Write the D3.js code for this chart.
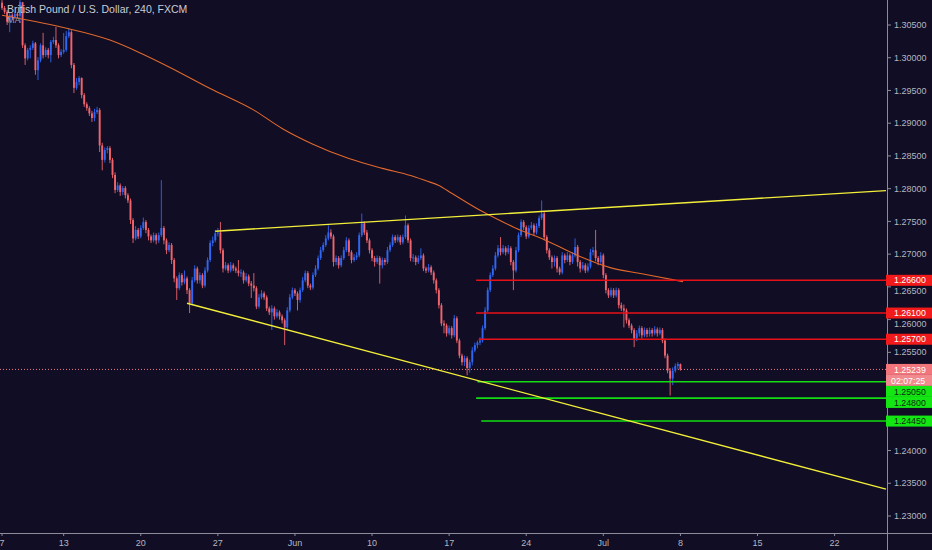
<!DOCTYPE html>
<html><head><meta charset="utf-8">
<script src="https://cdn.jsdelivr.net/npm/d3@7"></script>
<style>body{margin:0;background:#100d24;overflow:hidden}svg{display:block}</style>
</head><body><svg id="c" width="932" height="550"></svg>
<script>
// ---- DATA (GBP/USD 4H, FXCM) ----
const title = "British Pound / U.S. Dollar, 240, FXCM";
const indicatorName = "MA";
const firstOpen = 1.3084;
const closes = [
1.3076,1.3070,1.3055,1.3065,1.3062,1.3067,1.3064,1.3085,1.3019,1.2999,
1.3012,1.3015,1.3022,1.2981,1.2996,1.3019,1.3004,1.3012,1.3004,1.3024,
1.3027,1.3019,1.3004,1.3009,1.3012,1.3033,1.3039,1.2989,1.2954,1.2963,
1.2969,1.2943,1.2929,1.2923,1.2915,1.2908,1.2917,1.2920,1.2866,1.2844,
1.2859,1.2862,1.2844,1.2821,1.2798,1.2805,1.2795,1.2801,1.2790,1.2782,
1.2752,1.2724,1.2737,1.2727,1.2740,1.2749,1.2737,1.2727,1.2721,1.2729,
1.2721,1.2729,1.2740,1.2721,1.2706,1.2714,1.2691,1.2663,1.2648,1.2668,
1.2657,1.2663,1.2645,1.2625,1.2660,1.2678,1.2660,1.2668,1.2652,1.2675,
1.2691,1.2717,1.2721,1.2732,1.2733,1.2706,1.2678,1.2683,1.2675,1.2683,
1.2678,1.2675,1.2671,1.2672,1.2660,1.2666,1.2655,1.2652,1.2648,1.2620,
1.2634,1.2640,1.2634,1.2617,1.2611,1.2617,1.2605,1.2611,1.2605,1.2599,
1.2588,1.2614,1.2634,1.2645,1.2640,1.2630,1.2645,1.2660,1.2671,1.2652,
1.2649,1.2668,1.2678,1.2694,1.2706,1.2714,1.2724,1.2733,1.2727,1.2688,
1.2694,1.2683,1.2694,1.2706,1.2721,1.2703,1.2691,1.2695,1.2698,1.2729,
1.2747,1.2733,1.2721,1.2706,1.2694,1.2688,1.2694,1.2683,1.2691,1.2688,
1.2706,1.2714,1.2726,1.2721,1.2726,1.2718,1.2726,1.2744,1.2721,1.2694,
1.2695,1.2688,1.2694,1.2698,1.2678,1.2675,1.2680,1.2672,1.2660,1.2645,
1.2622,1.2594,1.2591,1.2579,1.2587,1.2576,1.2602,1.2568,1.2545,1.2535,
1.2541,1.2526,1.2535,1.2553,1.2561,1.2565,1.2568,1.2587,1.2614,1.2645,
1.2668,1.2678,1.2698,1.2709,1.2703,1.2709,1.2703,1.2709,1.2688,1.2675,
1.2706,1.2729,1.2749,1.2741,1.2727,1.2740,1.2744,1.2733,1.2743,1.2755,
1.2762,1.2726,1.2706,1.2695,1.2688,1.2694,1.2678,1.2672,1.2698,1.2691,
1.2698,1.2688,1.2698,1.2711,1.2688,1.2678,1.2683,1.2675,1.2681,1.2703,
1.2706,1.2694,1.2688,1.2698,1.2668,1.2645,1.2637,1.2645,1.2637,1.2645,
1.2622,1.2617,1.2614,1.2599,1.2591,1.2584,1.2571,1.2579,1.2587,1.2576,
1.2584,1.2578,1.2584,1.2579,1.2585,1.2579,1.2584,1.2568,1.2545,1.2522,
1.2510,1.2522,1.2529,1.2532,1.2524];
const highs = [
1.3088,1.3079,1.3073,1.3068,1.3068,1.3070,1.3070,1.3088,1.3081,1.3022,
1.3015,1.3019,1.3026,1.3024,1.3001,1.3022,1.3038,1.3016,1.3015,1.3027,
1.3032,1.3047,1.3022,1.3013,1.3038,1.3041,1.3045,1.3042,1.2992,1.2969,
1.2972,1.2970,1.2946,1.2932,1.2926,1.2919,1.2922,1.2925,1.2923,1.2870,
1.2863,1.2865,1.2865,1.2847,1.2825,1.2810,1.2808,1.2804,1.2804,1.2793,
1.2785,1.2755,1.2743,1.2740,1.2744,1.2756,1.2752,1.2740,1.2730,1.2733,
1.2732,1.2733,1.2813,1.2743,1.2724,1.2718,1.2717,1.2694,1.2666,1.2672,
1.2671,1.2675,1.2666,1.2648,1.2665,1.2683,1.2681,1.2672,1.2671,1.2680,
1.2695,1.2721,1.2727,1.2737,1.2740,1.2749,1.2709,1.2688,1.2686,1.2688,
1.2686,1.2681,1.2691,1.2677,1.2675,1.2671,1.2669,1.2659,1.2671,1.2651,
1.2639,1.2645,1.2643,1.2637,1.2620,1.2622,1.2620,1.2616,1.2614,1.2608,
1.2602,1.2619,1.2639,1.2649,1.2648,1.2643,1.2649,1.2665,1.2675,1.2674,
1.2655,1.2672,1.2683,1.2698,1.2711,1.2718,1.2729,1.2744,1.2738,1.2730,
1.2698,1.2697,1.2698,1.2711,1.2726,1.2724,1.2706,1.2700,1.2703,1.2733,
1.2762,1.2750,1.2737,1.2724,1.2709,1.2697,1.2698,1.2697,1.2695,1.2694,
1.2711,1.2718,1.2730,1.2729,1.2730,1.2729,1.2730,1.2759,1.2747,1.2724,
1.2700,1.2698,1.2698,1.2709,1.2701,1.2681,1.2685,1.2683,1.2675,1.2663,
1.2648,1.2625,1.2599,1.2594,1.2591,1.2590,1.2607,1.2605,1.2571,1.2548,
1.2545,1.2544,1.2539,1.2558,1.2565,1.2568,1.2573,1.2591,1.2619,1.2649,
1.2672,1.2683,1.2703,1.2714,1.2726,1.2714,1.2712,1.2714,1.2712,1.2691,
1.2711,1.2733,1.2753,1.2752,1.2744,1.2744,1.2749,1.2747,1.2747,1.2759,
1.2782,1.2766,1.2729,1.2709,1.2698,1.2698,1.2697,1.2681,1.2703,1.2701,
1.2703,1.2701,1.2703,1.2724,1.2714,1.2691,1.2688,1.2686,1.2686,1.2708,
1.2711,1.2737,1.2697,1.2703,1.2701,1.2671,1.2648,1.2649,1.2648,1.2649,
1.2648,1.2626,1.2623,1.2617,1.2602,1.2594,1.2587,1.2584,1.2591,1.2590,
1.2588,1.2587,1.2588,1.2587,1.2590,1.2588,1.2588,1.2587,1.2571,1.2548,
1.2526,1.2527,1.2533,1.2535,1.2533];
const lows = [
1.3073,1.3067,1.3050,1.3039,1.3058,1.3059,1.3061,1.3053,1.3015,1.2989,
1.2996,1.2999,1.3012,1.2974,1.2966,1.2993,1.2999,1.3001,1.2999,1.2993,
1.3021,1.3015,1.2999,1.3001,1.3006,1.3009,1.3030,1.2984,1.2946,1.2951,
1.2958,1.2938,1.2925,1.2919,1.2911,1.2902,1.2903,1.2914,1.2856,1.2828,
1.2840,1.2854,1.2839,1.2816,1.2793,1.2795,1.2789,1.2790,1.2785,1.2778,
1.2746,1.2717,1.2721,1.2723,1.2724,1.2737,1.2732,1.2721,1.2717,1.2718,
1.2715,1.2717,1.2726,1.2715,1.2700,1.2703,1.2685,1.2657,1.2630,1.2645,
1.2652,1.2654,1.2639,1.2610,1.2622,1.2657,1.2655,1.2655,1.2648,1.2649,
1.2672,1.2688,1.2712,1.2718,1.2727,1.2701,1.2672,1.2675,1.2671,1.2672,
1.2674,1.2671,1.2666,1.2665,1.2655,1.2657,1.2651,1.2633,1.2643,1.2616,
1.2617,1.2631,1.2630,1.2613,1.2607,1.2584,1.2600,1.2602,1.2600,1.2594,
1.2561,1.2584,1.2611,1.2631,1.2636,1.2614,1.2626,1.2642,1.2657,1.2648,
1.2645,1.2646,1.2665,1.2675,1.2691,1.2703,1.2711,1.2721,1.2723,1.2681,
1.2683,1.2678,1.2680,1.2691,1.2703,1.2697,1.2686,1.2688,1.2691,1.2695,
1.2726,1.2729,1.2717,1.2701,1.2689,1.2681,1.2685,1.2655,1.2678,1.2683,
1.2685,1.2703,1.2711,1.2717,1.2718,1.2714,1.2715,1.2723,1.2717,1.2689,
1.2688,1.2683,1.2685,1.2691,1.2674,1.2671,1.2672,1.2668,1.2655,1.2640,
1.2617,1.2590,1.2579,1.2574,1.2576,1.2571,1.2573,1.2564,1.2541,1.2530,
1.2529,1.2515,1.2519,1.2530,1.2550,1.2556,1.2561,1.2565,1.2584,1.2611,
1.2642,1.2665,1.2675,1.2695,1.2698,1.2700,1.2698,1.2700,1.2683,1.2645,
1.2672,1.2703,1.2726,1.2737,1.2723,1.2724,1.2737,1.2729,1.2730,1.2740,
1.2752,1.2721,1.2701,1.2691,1.2678,1.2681,1.2672,1.2668,1.2669,1.2686,
1.2688,1.2683,1.2685,1.2695,1.2681,1.2672,1.2675,1.2671,1.2672,1.2678,
1.2698,1.2689,1.2683,1.2685,1.2663,1.2640,1.2633,1.2634,1.2633,1.2634,
1.2617,1.2613,1.2588,1.2594,1.2587,1.2579,1.2558,1.2567,1.2574,1.2571,
1.2573,1.2573,1.2574,1.2574,1.2576,1.2574,1.2576,1.2564,1.2541,1.2518,
1.2484,1.2500,1.2519,1.2524,1.2522];

// Moving average, read at sample bars
const maIndex  = [0, 23, 42, 54, 65, 81, 98, 109, 121, 135, 148, 159, 165, 170, 175, 186, 194, 202, 210, 224, 237, 249, 265];
const maValues = [1.3065,1.3047,1.3027,1.3007,1.2986,1.2953,1.2920,1.2892,1.2868,1.2846,1.2831,1.2820,1.2812,1.2805,1.2793,1.2767,1.2751,1.2736,1.2724,1.2698,1.2679,1.2670,1.2658];

// Trend lines (bar index, price)
const upperLineIdx = [83, 344];
const upperLinePrice = [1.2735, 1.2797];
const lowerLineIdx = [72, 344];
const lowerLinePrice = [1.2625, 1.2341];

// Horizontal levels
const resistanceLevels = [1.2660, 1.2610, 1.2570];
const resistanceStart = [184.5, 184.5, 185.5];
const supportLevels = [1.2505, 1.2480, 1.2445];
const supportStart = [185, 184.5, 186.5];
const currentPrice = 1.25239;
const countdown = "02:07:25";

// Axes
const priceTicks = [1.230,1.235,1.240,1.245,1.250,1.255,1.260,1.265,1.270,1.275,1.280,1.285,1.290,1.295,1.300,1.305];
const dateTickIdx = [0, 24, 54, 84, 114, 144, 174, 204, 234, 264, 294, 324];
const dateTickLabels = ["7","13","20","27","Jun","10","17","24","Jul","8","15","22"];

// ---- DRAW ----
const W = 932, H = 550, plotR = 887, plotB = 533;
const svg = d3.select("#c");
const x = d3.scaleLinear().domain([0, 344]).range([2, 886]);
const y = d3.scaleLinear().domain([1.230, 1.305]).range([516, 25]);
const FONT = "'Liberation Sans', Arial, sans-serif";
const RED = "#f0646d", BLUE = "#2f66f2";
const fmt = d3.format(".5f");

svg.append("rect").attr("width", W).attr("height", H).attr("fill", "#100d24");
svg.append("defs").append("clipPath").attr("id", "plot")
  .append("rect").attr("x", 0).attr("y", 0).attr("width", plotR).attr("height", plotB);
const g = svg.append("g").attr("clip-path", "url(#plot)");

// dotted current price line
g.append("line").attr("x1", 0).attr("x2", plotR)
  .attr("y1", y(currentPrice)).attr("y2", y(currentPrice))
  .attr("stroke", "#f07a80").attr("stroke-width", 1).attr("stroke-dasharray", "1,2");

// candles
const bars = closes.map((c, i) => ({ i, o: i === 0 ? firstOpen : closes[i - 1], c, h: highs[i], l: lows[i] }));
const cg = g.append("g");
cg.selectAll("line.w").data(bars).join("line")
  .attr("x1", d => x(d.i)).attr("x2", d => x(d.i))
  .attr("y1", d => y(d.h)).attr("y2", d => y(d.l))
  .attr("stroke", d => d.c >= d.o ? BLUE : RED).attr("stroke-width", 0.9);
cg.selectAll("rect").data(bars).join("rect")
  .attr("x", d => x(d.i) - 0.95).attr("width", 1.9)
  .attr("y", d => y(Math.max(d.o, d.c)))
  .attr("height", d => Math.max(1, Math.abs(y(d.o) - y(d.c))))
  .attr("fill", d => d.c >= d.o ? BLUE : RED);

// MA
g.append("path").datum(maIndex.map((v, k) => [v, maValues[k]]))
  .attr("d", d3.line().x(d => x(d[0])).y(d => y(d[1])).curve(d3.curveMonotoneX))
  .attr("fill", "none").attr("stroke", "#e0682c").attr("stroke-width", 1.1);

// levels
resistanceLevels.forEach((p, k) => {
  g.append("line").attr("x1", x(resistanceStart[k])).attr("x2", plotR)
    .attr("y1", y(p)).attr("y2", y(p)).attr("stroke", "#e81018").attr("stroke-width", 1.6);
});
supportLevels.forEach((p, k) => {
  g.append("line").attr("x1", x(supportStart[k])).attr("x2", plotR)
    .attr("y1", y(p)).attr("y2", y(p)).attr("stroke", "#12dc12").attr("stroke-width", 1.6);
});

// trend lines
[[upperLineIdx, upperLinePrice], [lowerLineIdx, lowerLinePrice]].forEach(([ix, pr]) => {
  g.append("line").attr("x1", x(ix[0])).attr("y1", y(pr[0]))
    .attr("x2", x(ix[1])).attr("y2", y(pr[1]))
    .attr("stroke", "#f2ee3a").attr("stroke-width", 1.4);
});

// axes lines
svg.append("line").attr("x1", plotR + 0.5).attr("x2", plotR + 0.5).attr("y1", 0).attr("y2", H)
  .attr("stroke", "#8a8d99").attr("stroke-width", 1);
svg.append("line").attr("x1", 0).attr("x2", W).attr("y1", plotB + 0.5).attr("y2", plotB + 0.5)
  .attr("stroke", "#8a8d99").attr("stroke-width", 1);

// right-side price labels with overlap resolution (layout first)
const labels = [];
resistanceLevels.forEach(p => labels.push({ p, text: fmt(p), bg: "#f21a1a", fg: "#ffffff" }));
labels.push({ p: currentPrice, text: fmt(currentPrice), bg: "#f2757b", fg: "#ffffff" });
labels.push({ p: currentPrice, text: countdown, bg: "#f08a8f", fg: "#ffffff", below: true });
supportLevels.forEach(p => labels.push({ p, text: fmt(p), bg: "#14e614", fg: "#0c2a0c" }));
const LH = 11;
let prevBottom = -Infinity;
labels.forEach(l => {
  let c = y(l.p) + (l.below ? LH : 0);
  c = Math.max(c, prevBottom + LH / 2);
  l.cy = c; prevBottom = c + LH / 2;
});

// price axis ticks (labels hidden where a box covers them, nudged when partly covered)
const pa = svg.append("g");
priceTicks.forEach(p => {
  const ty = y(p);
  pa.append("line").attr("x1", plotR).attr("x2", plotR + 4).attr("y1", ty).attr("y2", ty)
    .attr("stroke", "#8a8d99");
  const covered = labels.some(l => Math.abs(l.cy - ty) <= LH / 2);
  if (covered) return;
  let ly = ty;
  labels.forEach(l => {
    if (ty > l.cy && ty - l.cy < LH / 2 + 5) ly = Math.max(ly, l.cy + LH / 2 + 5);
    if (ty < l.cy && l.cy - ty < LH / 2 + 5) ly = Math.min(ly, l.cy - LH / 2 - 5);
  });
  pa.append("text").attr("x", 894).attr("y", ly).attr("dy", "0.35em")
    .attr("font-family", FONT).attr("font-size", 9).attr("fill", "#b4b7c0").text(fmt(p));
});

// date axis
dateTickIdx.forEach((v, k) => {
  svg.append("line").attr("x1", x(v)).attr("x2", x(v)).attr("y1", plotB).attr("y2", plotB + 3)
    .attr("stroke", "#8a8d99");
  svg.append("text").attr("x", x(v)).attr("y", 546).attr("text-anchor", "middle")
    .attr("font-family", FONT).attr("font-size", 9).attr("fill", "#b4b7c0").text(dateTickLabels[k]);
});

// draw price boxes
const lg = svg.append("g");
labels.forEach(l => {
  lg.append("rect").attr("x", plotR - 1).attr("y", l.cy - LH / 2).attr("width", W - plotR + 1).attr("height", LH)
    .attr("fill", l.bg);
  lg.append("text").attr("x", l.below ? 891 : 894).attr("y", l.cy).attr("dy", "0.35em")
    .attr("font-family", FONT).attr("font-size", 8.8).attr("fill", l.fg).text(l.text);
});

// title
svg.append("text").attr("x", 7).attr("y", 13).attr("font-family", FONT).attr("font-size", 10.5)
  .attr("fill", "#c9ccd6").text(title);
svg.append("text").attr("x", 7).attr("y", 23).attr("font-family", FONT).attr("font-size", 9)
  .attr("fill", "#9a9ca8").text(indicatorName);
</script></body></html>
